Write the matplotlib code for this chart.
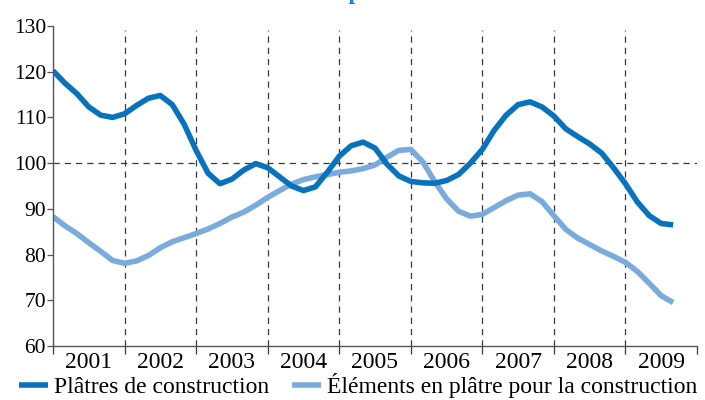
import matplotlib
matplotlib.use("Agg")
import matplotlib.pyplot as plt
import numpy as np

plt.rcParams['font.family'] = ['Liberation Serif', 'DejaVu Serif']

years = ['2001', '2002', '2003', '2004', '2005', '2006', '2007', '2008', '2009']
# time in years from start of 2001, sampled every 1/6 year
t = [k / 6 for k in range(53)]
platres = [120.2, 117.5, 115.2, 112.3, 110.5, 110.0, 110.8, 112.6, 114.2, 114.8,
           112.8, 108.5, 102.8, 97.8, 95.5, 96.5, 98.5, 99.9, 99.0, 97.0,
           95.0, 94.0, 94.8, 98.0, 101.5, 103.8, 104.6, 103.3, 99.8, 97.2,
           96.0, 95.7, 95.6, 96.2, 97.5, 100.0, 103.0, 107.2, 110.5, 112.8,
           113.4, 112.3, 110.3, 107.5, 105.8, 104.2, 102.2, 99.0, 95.5, 91.5,
           88.5, 86.8, 86.5]
elements = [88.3, 86.3, 84.6, 82.6, 80.7, 78.7, 78.1, 78.6, 79.8, 81.5,
            82.8, 83.7, 84.6, 85.6, 86.8, 88.2, 89.3, 90.8, 92.5, 94.0,
            95.4, 96.4, 97.0, 97.5, 98.0, 98.3, 98.8, 99.6, 101.3, 102.8,
            103.0, 100.3, 96.0, 92.2, 89.5, 88.4, 88.8, 90.3, 91.8, 93.0,
            93.3, 91.6, 88.5, 85.5, 83.6, 82.2, 80.8, 79.6, 78.3, 76.3,
            73.7, 71.0, 69.5]
yticks = [60, 70, 80, 90, 100, 110, 120, 130]
series_names = ['Plâtres de construction', 'Éléments en plâtre pour la construction']

dark = '#0872BD'
light = '#7AABDD'
grid_c = '#3a3a3a'

fig = plt.figure(figsize=(7.05, 4.0), dpi=100)
ax = fig.add_axes([53/705, 54/400, 644/705, 320/400])

ax.set_xlim(0, len(years))
ax.set_ylim(60, 130)

# dashed reference lines
ax.axhline(100, color=grid_c, lw=0.9, dashes=(5, 4), zorder=1)
for i in range(1, len(years)):
    ax.plot([i, i], [60, 129.2], color=grid_c, lw=0.9, dashes=(5, 4), zorder=1)

l1, = ax.plot(t, platres, color=dark, lw=4.0, solid_capstyle='butt',
              solid_joinstyle='round', zorder=3, label=series_names[0])
l2, = ax.plot(t, elements, color=light, lw=4.0, solid_capstyle='butt',
              solid_joinstyle='round', zorder=2, label=series_names[1])

for s in ['top', 'right']:
    ax.spines[s].set_visible(False)
for s in ['left', 'bottom']:
    ax.spines[s].set_color('#555555')
    ax.spines[s].set_linewidth(1.0)

ax.set_yticks(yticks)
ax.set_yticklabels([str(v) for v in yticks], fontsize=15.5)
ax.tick_params(axis='y', length=4, width=0.9, color='#555555', pad=1)

ax.set_xticks(range(len(years) + 1))
ax.set_xticklabels([''] * (len(years) + 1))
ax.tick_params(axis='x', which='major', length=6, width=0.9, color=grid_c)
ax.set_xticks([i + 0.5 for i in range(len(years))], minor=True)
ax.set_xticklabels(years, minor=True, fontsize=17)
ax.tick_params(axis='x', which='minor', length=0, pad=4)

fig.legend(handles=[l1, l2], loc='lower left', bbox_to_anchor=(14/705, -3/400),
           ncol=2, frameon=False, fontsize=17, handlelength=1.25,
           handletextpad=0.25, columnspacing=0.95, borderpad=0.2, borderaxespad=0)

fig.text(340/705, 1 + 1/400, "Évolution des indices de production industrielle",
         ha='center', va='baseline', fontsize=17, fontweight='bold', color='#1A86CC')

fig.savefig('out.png', dpi=100)
